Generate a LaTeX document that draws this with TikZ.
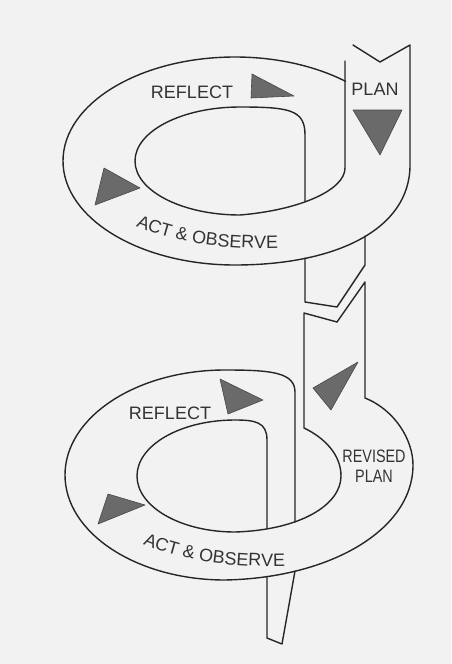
\documentclass[tikz,border=0pt]{standalone}
\usepackage{fontspec}
\newfontfamily\diagfont{Liberation Sans}
\usetikzlibrary{decorations.text}
\definecolor{bg}{HTML}{F2F2F2}
\definecolor{ink}{HTML}{262626}
\definecolor{tri}{HTML}{6A6A6A}
\definecolor{txt}{HTML}{333333}
\begin{document}
\begin{tikzpicture}[x=1pt,y=-1pt,
  band/.style={draw=ink, line width=1.4pt, line join=round, line cap=round},
  arrowtri/.style={fill=tri, draw=ink!85, line width=0.6pt, line join=round},
  lbl/.style={font=\diagfont\fontsize{18}{18}\selectfont, text=txt, inner sep=0pt},
  curvedlbl/.style={decoration={text along path, text align=center,
      text={|\diagfont\fontsize{18}{18}\selectfont\color{txt}|ACT {\&} OBSERVE}},
      postaction={decorate}}]
\fill[bg] (0,0) rectangle (451,664);
\useasboundingbox (0,0) rectangle (451,664);

% ---------- upper cycle ----------
% outer edge: plan column right side, act & observe, reflect
\draw[band] (353,45) -- (380,62) -- (410,45) -- (410,165)
  .. controls (410,230) and (335,265) .. (235,265)
  arc[start angle=90, end angle=310, x radius=172, y radius=104];
% inner edge: plan column left side, inner loop, shaft going down
\draw[band] (345,61) -- (345,168)
  .. controls (345,190) and (300,210) .. (240,215)
  arc[start angle=90, end angle=270, x radius=105, y radius=54]
  .. controls (290,107) and (305,110) .. (305,135) -- (305,202);
% shaft below the band, broken end
\draw[band] (305,258) -- (305,302) -- (337,307) -- (365,265) -- (365,236);

% ---------- lower cycle ----------
% outer edge: shaft right side, revised plan, act & observe, reflect, tail
\draw[band] (337,322) -- (365,282) -- (365,398)
  .. controls (395,410) and (413,440) .. (413,465)
  .. controls (413,530) and (330,578) .. (225,580)
  arc[start angle=90, end angle=270, x radius=160, y radius=105]
  .. controls (270,370) and (295,372) .. (295,392) -- (295,522);
% inner edge
\draw[band] (337,322) -- (304,313) -- (304,428)
  .. controls (325,438) and (341,455) .. (341,476)
  .. controls (341,505) and (300,530) .. (235,532)
  arc[start angle=90, end angle=270, x radius=98, y radius=56]
  .. controls (255,420) and (267,422) .. (267,440) -- (267,529);
% tail below the band
\draw[band] (267,577) -- (267,638) -- (282,644) -- (295,571);

% ---------- arrow triangles ----------
\draw[arrowtri] (252,74) -- (251,98) -- (294,96) -- cycle;
\draw[arrowtri] (353,110) -- (402,110) -- (380,155) -- cycle;
\draw[arrowtri] (104,168) -- (95,205) -- (140,188) -- cycle;
\draw[arrowtri] (220,379) -- (228,414) -- (263,400) -- cycle;
\draw[arrowtri] (108,494) -- (98,524) -- (145,505) -- cycle;
\draw[arrowtri] (313,388) -- (358,362) -- (331,410) -- cycle;

% ---------- labels ----------
\node[lbl, anchor=base] (plan) at (375,95) {PLAN};
\node[lbl, anchor=base] (reflectA) at (192,98) {REFLECT};
\node[lbl, anchor=base] (reflectB) at (170,419) {REFLECT};
\node[lbl, anchor=base] (revised) at (374,462) {\scalebox{0.8}[1]{REVISED}};
\node[lbl, anchor=base] (revplan) at (374,482) {\scalebox{0.8}[1]{PLAN}};
\path[curvedlbl] (125,221) .. controls (165,241) and (220,251) .. (290,248);
\path[curvedlbl] (132,539) .. controls (172,559) and (227,569) .. (297,566);
\end{tikzpicture}
\end{document}
